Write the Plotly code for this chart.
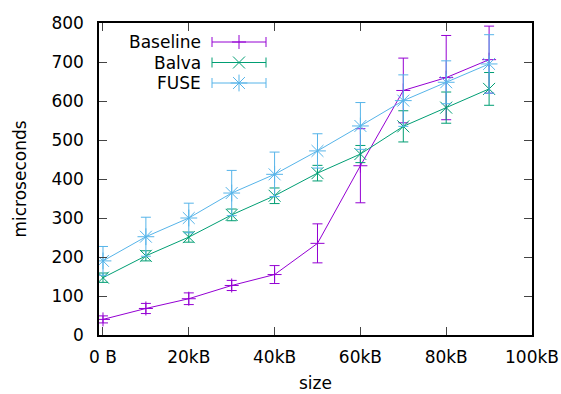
import plotly.graph_objects as go

# ---- data ----
size_kb = [0, 10, 20, 30, 40, 50, 60, 70, 80, 90]
baseline = [40, 68, 93, 127, 155, 235, 434, 627, 660, 706]
baseline_err = [9, 13, 15, 13, 23, 50, 95, 83, 108, 86]
balva = [147, 203, 251, 308, 357, 415, 464, 535, 583, 631]
balva_err = [12, 13, 13, 15, 20, 20, 22, 40, 40, 42]
fuse = [190, 252, 300, 364, 412, 472, 536, 601, 648, 695]
fuse_err = [37, 50, 38, 58, 57, 44, 60, 66, 55, 75]

x_tickvals = [0, 20, 40, 60, 80, 100]
x_ticktext = ["0 B", "20kB", "40kB", "60kB", "80kB", "100kB"]
y_tickvals = [0, 100, 200, 300, 400, 500, 600, 700, 800]

series = [
    ("Baseline", baseline, baseline_err, "#9400d3", "cross-thin-open", 10),
    ("Balva", balva, balva_err, "#009e73", "x-thin-open", 12),
    ("FUSE", fuse, fuse_err, "#56b4e9", "asterisk-open", 14),
]

FONT = "DejaVu Sans"
FS = 17
W, H = 561, 394
fig = go.Figure()

for name, vals, errs, col, sym, msz in series:
    fig.add_trace(go.Scatter(
        x=size_kb, y=vals, mode="lines+markers", name=name,
        line=dict(color=col, width=1),
        marker=dict(symbol=sym, size=msz, color=col, line=dict(color=col, width=1)),
        error_y=dict(type="data", array=errs, visible=True, color=col, thickness=1, width=5),
        showlegend=False,
    ))

# legend keys (gnuplot style: text right-aligned, sample to the right); pixel coords in figure
key_y = [42, 62.5, 83]
for (name, vals, errs, col, sym, msz), ky in zip(series, key_y):
    fig.add_trace(go.Scatter(
        x=[239], y=[ky], xaxis="x2", yaxis="y2", mode="markers",
        marker=dict(symbol=sym, size=msz, color=col, line=dict(color=col, width=1)),
        error_x=dict(type="constant", value=27, visible=True, color=col, thickness=1, width=5),
        showlegend=False, hoverinfo="skip",
    ))
    fig.add_annotation(x=203, y=ky, xref="x2", yref="y2", text=name, showarrow=False,
                       xanchor="right", yanchor="middle",
                       font=dict(family=FONT, size=FS, color="black"))

# x-axis title
fig.add_annotation(x=0.5, y=-0.155, xref="paper", yref="paper", text="size", showarrow=False,
                   xanchor="center", yanchor="middle", borderpad=0,
                   font=dict(family=FONT, size=FS, color="black"))

fig.update_layout(
    width=W, height=H,
    margin=dict(l=99, r=29, t=23, b=59),
    paper_bgcolor="white", plot_bgcolor="white",
    font=dict(family=FONT, size=FS, color="black"),
    hovermode=False,
    xaxis=dict(
        range=[-0.93, 100], tickvals=x_tickvals, ticktext=x_ticktext, automargin=False,
        ticks="inside", ticklen=8, tickcolor="#444", showline=True, linecolor="black",
        linewidth=1.5, mirror="ticks", showgrid=False, zeroline=False,
        ticklabelstandoff=6, tickfont=dict(family=FONT, size=FS),
    ),
    yaxis=dict(
        range=[0, 800], tickvals=y_tickvals, automargin=False,
        ticks="inside", ticklen=8, tickcolor="#444", showline=True, linecolor="black",
        linewidth=1.5, mirror="ticks", showgrid=False, zeroline=False,
        ticklabelstandoff=10, tickfont=dict(family=FONT, size=FS),
        title=dict(text="microseconds", standoff=20, font=dict(family=FONT, size=FS)),
    ),
    xaxis2=dict(overlaying="x", range=[99, 532], visible=False, fixedrange=True),
    yaxis2=dict(overlaying="y", range=[335, 23], visible=False, fixedrange=True),
)

fig.write_html(
    "out.html",
    config={"displayModeBar": False},
    post_script="document.body.style.margin='0';document.body.style.overflow='hidden';",
)
